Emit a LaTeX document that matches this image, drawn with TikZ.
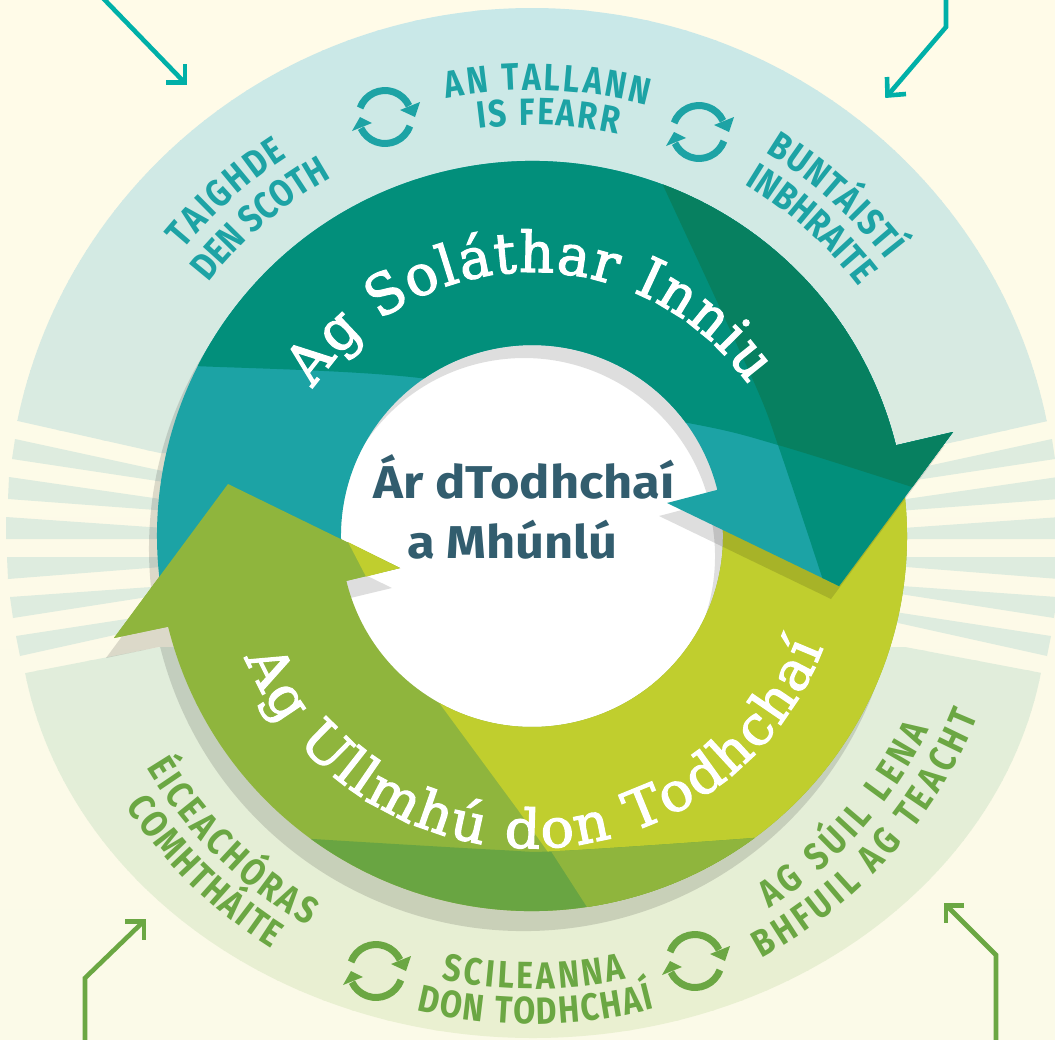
\documentclass[tikz,border=0pt]{standalone}
\usepackage{fontspec}
\usetikzlibrary{decorations.text}
\newfontfamily\din[FakeStretch=0.84]{Fira Sans}
\newfontfamily\dinc[FakeStretch=1.1]{Fira Sans}
\newfontfamily\slab[FakeStretch=0.97,FakeBold=2.2]{DejaVu Serif}
\newfontfamily\slabwide[FakeStretch=1.03,FakeBold=2.2]{DejaVu Serif}
\definecolor{bgtop}{HTML}{FFFBE8}
\definecolor{bgbot}{HTML}{FBFAE8}
\definecolor{ringA}{HTML}{C8E8E8}
\definecolor{ringB}{HTML}{DCEBE0}
\definecolor{ringC}{HTML}{E0EDDC}
\definecolor{ringD}{HTML}{EAF0D0}
\definecolor{bandc}{HTML}{DEECDF}
\definecolor{tealmid}{HTML}{028F7B}
\definecolor{tealdark}{HTML}{078060}
\definecolor{teallight}{HTML}{1CA3A5}
\definecolor{yellowg}{HTML}{C0CE2E}
\definecolor{midg}{HTML}{8FB53D}
\definecolor{darkg}{HTML}{69A542}
\definecolor{labteal}{HTML}{1DA3A5}
\definecolor{labgreen}{HTML}{6BA743}
\definecolor{arrteal}{HTML}{00B0A8}
\definecolor{centretext}{HTML}{325D6E}
\def\tealpath{(895.9,445.3) arc (14:190:375pt) -- (343.9,569.2) arc (190:14:191pt) -- (667,503) -- (839,586) -- (953,432) -- cycle}
\def\greenpath{(168.1,626.7) arc (194:370:375pt) -- (720.1,502.8) arc (370:193.6:191pt) -- (400,568) -- (228,484) -- (114,638) -- cycle}
\def\bandset{%
  \fill[bandc] (15,439) -- (250,490) -- (250,495) -- (12,459) -- cycle;
  \fill[bandc] (9,477) -- (250,512) -- (250,517) -- (8,499) -- cycle;
  \fill[bandc] (6,517) -- (250,534) -- (250,539) -- (6,539) -- cycle;
  \fill[bandc] (7,557) -- (250,557) -- (250,560) -- (8,579) -- cycle;
  \fill[bandc] (10,597) -- (250,580) -- (250,581) -- (13,618) -- cycle;
  \fill[bandc] (16,636) -- (250,600) -- (250,605) -- (20,656) -- cycle;
}
% radius, start angle, end angle, colour, size, text
\newcommand\arclabel[6]{%
  \path[decorate,decoration={text along path,text align={fit to path},
    text={|\din\bfseries\fontsize{#5}{#5}\selectfont\color{#4}|#6}}]
    ([shift={(#2:#1pt)}]532,536) arc (#2:#3:#1pt);}
\newcommand\mainlabel[5]{%
  \path[decorate,decoration={text along path,text align={fit to path},
    text={|#4\selectfont\color{white}|#5}}]
    ([shift={(#2:#1pt)}]532,536) arc (#2:#3:#1pt);}
\newcommand\cycleicon[3]{%
  \begin{scope}[shift={(#1,#2)}]
    \draw[line width=7pt,#3] ([shift={(160:26.5pt)}]0,0) arc (160:25:26.5pt);
    \fill[#3] (35,-15) -- (15,-7) -- (30,0) -- cycle;
    \draw[line width=7pt,#3] ([shift={(-20:26.5pt)}]0,0) arc (-20:-155:26.5pt);
    \fill[#3] (-33,14) -- (-13,6) -- (-25,0) -- cycle;
  \end{scope}}
\tikzset{
  shade15/.style={fill=black,fill opacity=0.13},
  arrowline/.style={line width=4.6pt,miter limit=10,line join=miter},
  centrelabel/.style={anchor=base,inner sep=0pt,text=centretext,font=\dinc\bfseries\fontsize{46}{46}\selectfont}
}
\begin{document}
\begin{tikzpicture}[x=1pt,y=-1pt]
\useasboundingbox (0,0) rectangle (1055,1039);
\clip (0,0) rectangle (1055,1039);
\fill[top color=bgtop,bottom color=bgbot] (0,0) rectangle (1055,1039);
% upper pale segment
\begin{scope}
  \clip (0,-10) -- (1055,-10) -- (1055,419.4) -- (905,453) -- (160,453) -- (0,417) -- cycle;
  \clip (532,523) ellipse [x radius=525pt,y radius=515pt];
  \foreach \i in {0,...,45}{
    \pgfmathsetmacro\mixp{100-100*\i/45}
    \pgfmathsetmacro\ya{\i*10}
    \pgfmathsetmacro\yb{\i*10+11}
    \fill[ringA!\mixp!ringB] (0,\ya) rectangle (1055,\yb);
  }
\end{scope}
% lower pale segment
\begin{scope}
  \clip (0,678) -- (160,647) -- (905,647) -- (1055,675.5) -- (1055,1050) -- (0,1050) -- cycle;
  \clip (533,600) ellipse [x radius=515pt,y radius=438pt];
  \foreach \i in {0,...,40}{
    \pgfmathsetmacro\mixp{100-100*\i/40}
    \pgfmathsetmacro\ya{640+\i*10}
    \pgfmathsetmacro\yb{640+\i*10+11}
    \fill[ringC!\mixp!ringD] (0,\ya) rectangle (1055,\yb);
  }
\end{scope}
% bands
\bandset
\begin{scope}[shift={(1067,0)},xscale=-1]
\bandset
\end{scope}
% white centre
\fill[white] (532,536) circle [radius=191pt];
% green arrow shadow
\begin{scope}[shift={(-8,20)}]
  \fill[shade15] \greenpath;
\end{scope}
% green arrow
\begin{scope}
  \clip \greenpath;
  \fill[midg] (100,400) rectangle (960,950);
  \fill[yellowg] (400,649) -- (440,704) -- (518,810) -- (610,939) -- (960,939) -- (960,400) -- (400,400) -- cycle;
  \fill[darkg] plot[smooth] coordinates {(280,836) (313,839) (500,850) (560,851) (753,838) (790,833)} -- (790,950) -- (280,950) -- cycle;
  \begin{scope}
    \clip (587,907) -- (610,939) -- (800,939) -- (800,800) -- (518,800) -- cycle;
    \fill[midg] plot[smooth] coordinates {(500,850) (560,851) (753,838) (790,833)} -- (790,950) -- (500,950) -- cycle;
  \end{scope}
\end{scope}
% teal arrow shadow
\begin{scope}[shift={(-8,13)}]
  \fill[shade15] \tealpath;
\end{scope}
% teal arrow
\begin{scope}
  \clip \tealpath;
  \fill[teallight] (100,100) rectangle (1000,700);
  \fill[tealmid] plot[smooth] coordinates {(140,364) (195,366) (420,378) (688,423) (778,445) (912,487) (965,505)} -- (965,100) -- (140,100) -- cycle;
  \fill[tealmid] plot[smooth] coordinates {(650,157) (662,183) (753,380) (778,445) (822,577) (835,620)} -- (1000,620) -- (1000,157) -- cycle;
  \begin{scope}
    \clip plot[smooth] coordinates {(140,364) (195,366) (420,378) (688,423) (778,445) (912,487) (965,505)} -- (965,100) -- (140,100) -- cycle;
    \fill[tealdark] plot[smooth] coordinates {(650,157) (662,183) (753,380) (778,445) (822,577) (835,620)} -- (1000,620) -- (1000,157) -- cycle;
  \end{scope}
\end{scope}
% green arrow head on top of the teal band
\fill[midg] (168.1,626.7) -- (114,638) -- (228,484) -- (400,568) -- (346.3,580.9) -- cycle;
\fill[yellowg] (348,542) -- (400,568) -- (366,576.6) -- cycle;
% sweeping titles
\mainlabel{264}{146}{35}{\slab\fontsize{56}{56}}{Ag Soláthar Inniu}
\mainlabel{312}{203}{339}{\slabwide\fontsize{54}{54}}{Ag Ullmhú don Todhchaí}
% centre text
\node[centrelabel] (ctitleA) at (524,498) {Ár dTodhchaí};
\node[centrelabel] (ctitleB) at (512.5,558) {a Mhúnlú};
% ring labels
\arclabel{446}{101}{75}{labteal}{38}{AN TALLANN}
\arclabel{411}{97.5}{78}{labteal}{38}{IS FEARR}
\arclabel{451}{140.5}{122.8}{labteal}{38}{TAIGHDE}
\arclabel{411}{142}{119.4}{labteal}{38}{DEN SCOTH}
\arclabel{449}{58.7}{37.9}{labteal}{38}{BUNTÁISTÍ}
\arclabel{411}{58.8}{37.5}{labteal}{38}{INBHRAITE}
\arclabel{450}{211}{240.1}{labgreen}{38}{ÉICEACHÓRAS}
\arclabel{488}{213.7}{237.8}{labgreen}{38}{COMHTHÁITE}
\arclabel{453}{258.5}{282}{labgreen}{38}{SCILEANNA}
\arclabel{488}{256.3}{284.5}{labgreen}{38}{DON TODHCHAÍ}
\arclabel{442}{302.5}{334}{labgreen}{38}{AG SÚIL LENA}
\arclabel{481}{298.5}{338}{labgreen}{38}{BHFUIL AG TEACHT}
% cycle icons
\cycleicon{385}{117}{labteal}
\cycleicon{699}{132}{labteal}
\cycleicon{376}{971}{labgreen}
\cycleicon{695}{961}{labgreen}
% arrows
\draw[arrowline,arrteal] (100,-5) -- (185,83);
\draw[arrowline,arrteal] (166,82.5) -- (185,82.5) -- (185,64);
\draw[arrowline,arrteal] (946,-5) -- (946,27) -- (888,95);
\draw[arrowline,arrteal] (887,77) -- (887.5,95.5) -- (906,94);
\draw[arrowline,labgreen] (85,1045) -- (85,978) -- (143,922);
\draw[arrowline,labgreen] (125,921.5) -- (144,921.5) -- (144,940);
\draw[arrowline,labgreen] (996,1045) -- (996,955) -- (947,906);
\draw[arrowline,labgreen] (964,905.5) -- (946,905.5) -- (946,923);
\end{tikzpicture}
\end{document}
